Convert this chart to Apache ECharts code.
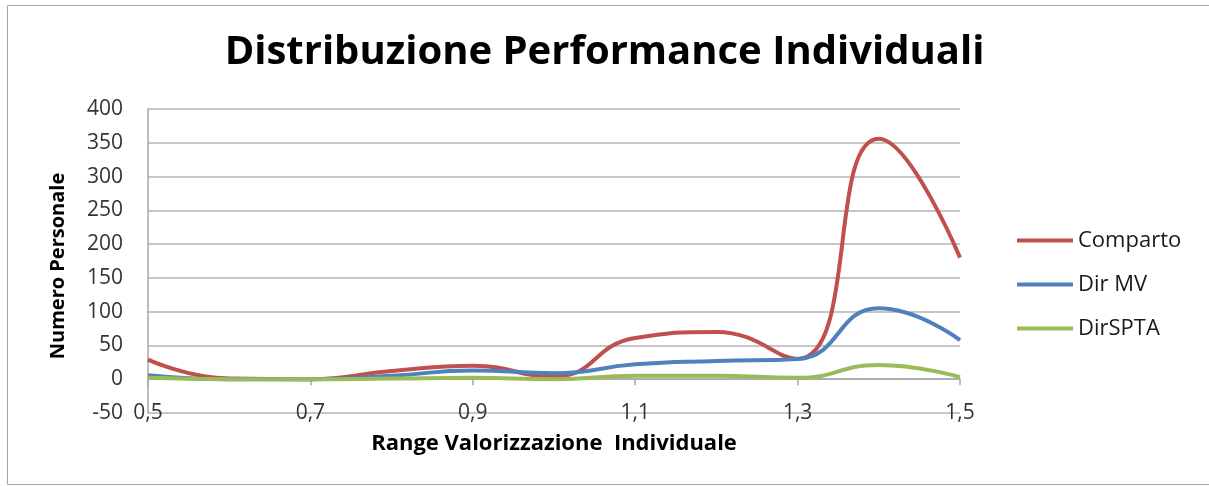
<!DOCTYPE html>
<html>
<head>
<meta charset="utf-8">
<script src="https://cdn.jsdelivr.net/npm/echarts@6/dist/echarts.min.js"></script>
<style>
html,body{margin:0;padding:0;background:#fff;}
#chart{width:1209px;height:486px;}
</style>
</head>
<body>
<div id="chart"></div>
<script>
// ---- data ----
const xValues = [0.5, 0.6, 0.7, 0.8, 0.9, 1.0, 1.1, 1.2, 1.3, 1.4, 1.5];
const comparto = [29, 1, 0, 12, 20, 4, 61, 70, 30, 356, 180];
const dirMV = [6, 0, 0, 5, 13, 9, 22, 27, 30, 105, 58];
const dirSPTA = [2, 0, 0, 1, 2, 0, 5, 5, 2, 21, 3];
const seriesNames = ['Comparto', 'Dir MV', 'DirSPTA'];
const titleText = 'Distribuzione Performance Individuali';
const xAxisName = 'Range Valorizzazione  Individuale';
const yAxisName = 'Numero Personale';

const colors = ['#C0504D', '#4F81BD', '#9BBB59'];
const FONT = "'Open Sans', 'Liberation Sans', sans-serif";

function pairs(vals) { return xValues.map((x, i) => [x, vals[i]]); }
const allValues = [comparto, dirMV, dirSPTA];

const chart = echarts.init(document.getElementById('chart'), null, {renderer: 'canvas'});
const fmt = v => v.toFixed(1).replace('.', ',');

chart.setOption({
  animation: false,
  backgroundColor: '#fff',
  title: {
    text: titleText,
    left: 'center',
    top: 33,
    padding: 0,
    textStyle: {fontFamily: FONT, fontSize: 40, fontWeight: 'bold', color: '#000'}
  },
  graphic: [{
    type: 'rect', silent: true, z: -1,
    shape: {x: 7.5, y: 5.5, width: 1210, height: 479},
    style: {fill: 'none', stroke: '#a6a6a6', lineWidth: 1}
  }],
  legend: {
    orient: 'vertical',
    left: 1017,
    top: 229,
    padding: 0,
    itemWidth: 56,
    itemHeight: 4,
    itemGap: 21,
    icon: 'rect',
    textStyle: {fontFamily: FONT, fontSize: 22, color: '#1a1a1a', lineHeight: 23},
    data: seriesNames
  },
  grid: {left: 148, right: 249, top: 109, bottom: 73, containLabel: false},
  xAxis: [{
    type: 'value', min: 0.5, max: 1.5, interval: 0.2,
    position: 'bottom',
    axisLine: {show: true, onZero: true, lineStyle: {color: '#a6a6a6', width: 1.5}},
    axisTick: {show: true, length: 6, lineStyle: {color: '#a6a6a6', width: 1.5}},
    axisLabel: {show: false},
    splitLine: {show: false}
  }, {
    type: 'value', min: 0.5, max: 1.5, interval: 0.2,
    position: 'bottom',
    axisLine: {show: false, onZero: false},
    axisTick: {show: false},
    splitLine: {show: false},
    axisLabel: {
      show: true, margin: 0, verticalAlign: 'middle',
      fontFamily: FONT, fontSize: 21, color: '#333',
      formatter: fmt
    },
    name: xAxisName,
    nameLocation: 'middle',
    nameGap: 20,
    nameMoveOverlap: false,
    nameTextStyle: {fontFamily: FONT, fontSize: 22, fontWeight: 'bold', color: '#000', verticalAlign: 'top'}
  }],
  yAxis: {
    type: 'value', min: -50, max: 400, interval: 50,
    axisLine: {show: true, onZero: false, lineStyle: {color: '#a6a6a6', width: 1.5}},
    axisTick: {show: false},
    splitLine: {show: true, lineStyle: {color: '#b3b3b3', width: 1.5}},
    axisLabel: {fontFamily: FONT, fontSize: 21, color: '#333', margin: 25},
    name: yAxisName,
    nameLocation: 'middle',
    nameRotate: 90,
    nameGap: 80,
    nameMoveOverlap: false,
    nameTextStyle: {fontFamily: FONT, fontSize: 20, fontWeight: 'bold', color: '#000', padding: [0, 10, 0, 0]}
  },
  series: seriesNames.map((name, i) => ({
    name: name,
    type: 'line',
    xAxisIndex: 0,
    smooth: 0.5,
    symbol: 'none',
    color: colors[i],
    lineStyle: {width: 4, color: colors[i]},
    data: pairs(allValues[i])
  }))
});
</script>
</body>
</html>
